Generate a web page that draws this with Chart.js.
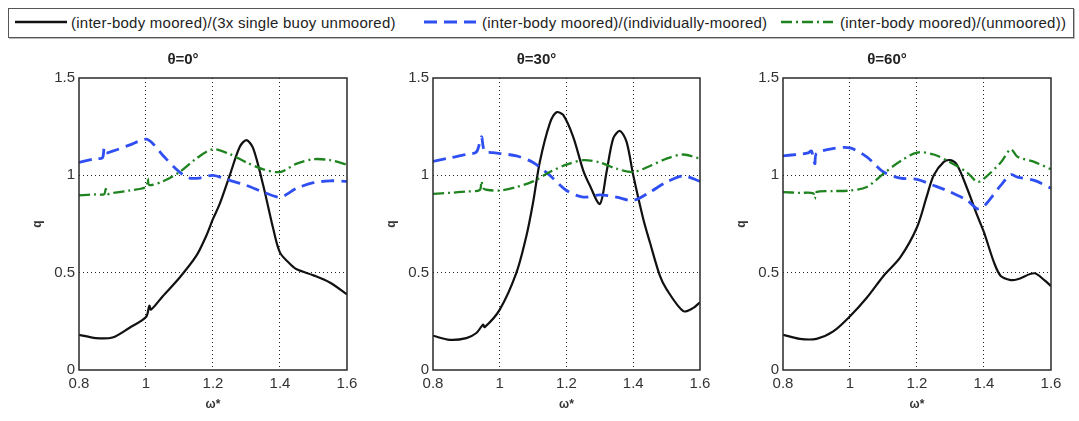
<!DOCTYPE html>
<html>
<head>
<meta charset="utf-8">
<script src="https://cdn.jsdelivr.net/npm/chart.js@4/dist/chart.umd.min.js"></script>
<style>
  html, body { margin: 0; padding: 0; background: #fff; }
  body { width: 1079px; height: 421px; position: relative; overflow: hidden; font-family: "Liberation Sans", Arial, sans-serif; }
  .panel { position: absolute; top: 40px; height: 381px; }
  #legend { position: absolute; left: 8px; top: 8px; width: 1066px; height: 30px; border: 1px solid #555; box-shadow: 1px 1px 0 #bbb; box-sizing: border-box; }
  .lline { position: absolute; top: 18px; }
  .ltext { position: absolute; top: 14px; font-size: 15px; line-height: 17px; letter-spacing: 0.25px; color: #222; white-space: nowrap; }
</style>
</head>
<body>
<div id="legend"></div>
<canvas id="c0" class="panel" style="left:19px" width="348" height="381"></canvas>
<canvas id="c1" class="panel" style="left:373px" width="347" height="381"></canvas>
<canvas id="c2" class="panel" style="left:723px" width="348" height="381"></canvas>
<script>
// ---- shared labels ----
const seriesNames = ['(inter-body moored)/(3x single buoy unmoored)', '(inter-body moored)/(individually-moored)', '(inter-body moored)/(unmoored))'];
const panelTitles = ['\u03b8=0\u00b0', '\u03b8=30\u00b0', '\u03b8=60\u00b0'];
const xTitle = '\u03c9*';
const yTitle = 'q';

// ---- panel 1 (theta = 0) ----
const p0BlackX = [0.80,0.85,0.90,0.95,1.00,1.01,1.015,1.05,1.10,1.15,1.18,1.20,1.22,1.25,1.28,1.30,1.32,1.35,1.38,1.40,1.43,1.45,1.50,1.55,1.60];
const p0BlackY = [0.181,0.164,0.167,0.216,0.272,0.33,0.31,0.379,0.474,0.586,0.69,0.776,0.853,1.0,1.147,1.181,1.138,0.948,0.724,0.603,0.545,0.517,0.486,0.448,0.388];
const p0BlueX = [0.80,0.85,0.87,0.875,0.88,0.90,0.95,1.00,1.02,1.05,1.10,1.13,1.16,1.20,1.25,1.30,1.35,1.40,1.45,1.50,1.55,1.60];
const p0BlueY = [1.066,1.086,1.09,1.14,1.115,1.124,1.155,1.186,1.164,1.103,1.017,0.986,0.986,1.0,0.974,0.948,0.914,0.888,0.934,0.962,0.972,0.969];
const p0GreenX = [0.80,0.85,0.875,0.88,0.885,0.90,0.95,1.00,1.005,1.01,1.05,1.10,1.15,1.20,1.25,1.30,1.35,1.40,1.45,1.50,1.55,1.60];
const p0GreenY = [0.897,0.902,0.903,0.93,0.905,0.909,0.922,0.94,0.983,0.95,0.969,1.017,1.086,1.134,1.109,1.066,1.031,1.017,1.06,1.083,1.078,1.055];

// ---- panel 2 (theta = 30) ----
const p1BlackX = [0.80,0.85,0.90,0.93,0.95,0.955,1.00,1.05,1.08,1.10,1.12,1.15,1.17,1.19,1.22,1.25,1.27,1.30,1.32,1.34,1.36,1.38,1.40,1.43,1.45,1.48,1.50,1.55,1.58,1.60];
const p1BlackY = [0.176,0.155,0.164,0.19,0.233,0.22,0.31,0.5,0.69,0.862,1.069,1.267,1.324,1.31,1.198,1.026,0.948,0.853,1.017,1.19,1.228,1.172,1.0,0.776,0.655,0.483,0.414,0.302,0.319,0.348];
const p1BlueX = [0.80,0.85,0.90,0.93,0.945,0.95,0.955,0.97,1.00,1.05,1.10,1.15,1.20,1.25,1.30,1.35,1.40,1.45,1.50,1.55,1.60];
const p1BlueY = [1.072,1.09,1.107,1.12,1.198,1.15,1.121,1.118,1.112,1.1,1.066,1.0,0.922,0.888,0.9,0.888,0.871,0.914,0.966,0.997,0.969];
const p1GreenX = [0.80,0.85,0.90,0.94,0.945,0.95,0.96,1.00,1.05,1.10,1.15,1.20,1.25,1.30,1.35,1.40,1.45,1.50,1.55,1.60];
const p1GreenY = [0.905,0.91,0.917,0.925,0.97,0.935,0.926,0.922,0.94,0.969,1.017,1.055,1.078,1.066,1.034,1.017,1.048,1.086,1.107,1.086];

// ---- panel 3 (theta = 60) ----
const p2BlackX = [0.80,0.85,0.90,0.95,1.00,1.05,1.10,1.15,1.20,1.23,1.25,1.28,1.30,1.32,1.35,1.38,1.40,1.43,1.45,1.48,1.50,1.55,1.58,1.60];
const p2BlackY = [0.181,0.16,0.16,0.198,0.276,0.371,0.483,0.578,0.733,0.897,1.0,1.069,1.078,1.052,0.931,0.793,0.707,0.552,0.483,0.462,0.466,0.497,0.462,0.431];
const p2BlueX = [0.80,0.85,0.875,0.885,0.895,0.90,0.95,1.00,1.05,1.10,1.15,1.20,1.25,1.30,1.35,1.38,1.40,1.45,1.48,1.50,1.55,1.60];
const p2BlueY = [1.1,1.109,1.115,1.125,1.06,1.112,1.138,1.141,1.095,1.017,0.986,0.979,0.948,0.914,0.871,0.828,0.841,0.948,1.003,0.991,0.974,0.934];
const p2GreenX = [0.80,0.85,0.89,0.895,0.90,0.95,1.00,1.05,1.10,1.15,1.20,1.25,1.30,1.35,1.38,1.40,1.45,1.48,1.50,1.55,1.60];
const p2GreenY = [0.914,0.91,0.908,0.88,0.914,0.919,0.922,0.94,1.009,1.072,1.117,1.107,1.066,1.014,0.966,0.983,1.066,1.134,1.095,1.069,1.031];

// ---- axis ticks ----
const xMin = 0.8, xMax = 1.6, xStep = 0.2;
const yMin = 0, yMax = 1.5, yStep = 0.5;

const colBlack = '#111111', colBlue = '#2f4ff2', colGreen = '#1f841f';
const styles = [
  { color: colBlack, width: 2.2, dash: [] },
  { color: colBlue, width: 2.8, dash: [13, 7] },
  { color: colGreen, width: 2.3, dash: [11, 4, 2, 4] }
];

function pts(xs, ys) { return xs.map((x, i) => ({ x: x, y: ys[i] })); }
const fmt = v => String(Number(Number(v).toFixed(2)));

// legend (HTML)
const legendLine = [15, 424, 781];
const legendText = [71, 482, 840];
seriesNames.forEach((name, i) => {
  const s = styles[i];
  const l = document.createElement('div');
  l.className = 'lline';
  l.style.left = legendLine[i] + 'px';
  l.innerHTML = '<svg width="52" height="8" style="display:block"><line x1="0" y1="4" x2="52" y2="4" stroke="' + s.color + '" stroke-width="' + (s.width + 0.4) + '" stroke-dasharray="' + (s.dash.length ? s.dash.join(' ') : 'none') + '"/></svg>';
  document.body.appendChild(l);
  const t = document.createElement('div');
  t.className = 'ltext';
  t.style.left = legendText[i] + 'px';
  t.textContent = name;
  document.body.appendChild(t);
});

const framePlugin = {
  id: 'frame',
  afterDraw(chart) {
    const a = chart.chartArea, ctx = chart.ctx;
    ctx.save();
    ctx.strokeStyle = '#2a2a2a';
    ctx.lineWidth = 1.5;
    ctx.strokeRect(a.left, a.top, a.right - a.left, a.bottom - a.top);
    ctx.restore();
  }
};

const panels = [
  [p0BlackX, p0BlackY, p0BlueX, p0BlueY, p0GreenX, p0GreenY],
  [p1BlackX, p1BlackY, p1BlueX, p1BlueY, p1GreenX, p1GreenY],
  [p2BlackX, p2BlackY, p2BlueX, p2BlueY, p2GreenX, p2GreenY]
];

const gridColor = (ctx, lo, hi) => {
  const v = ctx.tick ? ctx.tick.value : null;
  if (v === null || Math.abs(v - lo) < 1e-6 || Math.abs(v - hi) < 1e-6) return 'rgba(0,0,0,0)';
  return '#222';
};

panels.forEach((p, k) => {
  const datasets = [0, 1, 2].map(j => ({
    label: seriesNames[j],
    data: pts(p[2 * j], p[2 * j + 1]),
    borderColor: styles[j].color,
    borderWidth: styles[j].width,
    borderDash: styles[j].dash,
    pointRadius: 0,
    fill: false,
    tension: 0.3
  }));
  new Chart(document.getElementById('c' + k), {
    type: 'line',
    data: { datasets: datasets.reverse() },
    options: {
      responsive: false,
      animation: false,
      devicePixelRatio: 1,
      layout: { padding: { left: 0, right: 20, top: 0, bottom: 0 } },
      plugins: {
        legend: { display: false },
        tooltip: { enabled: false },
        title: {
          display: true,
          text: panelTitles[k],
          color: '#222',
          font: { family: 'Liberation Sans', size: 15, weight: 'bold', lineHeight: '16px' },
          padding: { top: 12, bottom: 10 }
        }
      },
      scales: {
        x: {
          type: 'linear', min: xMin, max: xMax,
          ticks: { stepSize: xStep, padding: 5, color: '#333', font: { family: 'Liberation Sans', size: 15 }, callback: v => fmt(v) },
          grid: { drawTicks: false, color: c => gridColor(c, xMin, xMax), lineWidth: 1 },
          border: { display: false, dash: [1, 3] },
          title: { display: true, text: xTitle, color: '#333', font: { family: 'Liberation Sans', size: 12, weight: 'bold' }, padding: { top: 0, bottom: 9 } },
          afterFit(s) { s.height = 51; }
        },
        y: {
          min: yMin, max: yMax,
          ticks: { stepSize: yStep, padding: 4, color: '#333', font: { family: 'Liberation Sans', size: 15 }, callback: v => fmt(v) },
          grid: { drawTicks: false, color: c => gridColor(c, yMin, yMax), lineWidth: 1 },
          border: { display: false, dash: [1, 3] },
          title: { display: true, text: yTitle, color: '#333', font: { family: 'Liberation Sans', size: 12, weight: 'bold' }, padding: { top: 11, bottom: 0 } },
          afterFit(s) { s.width = 60; }
        }
      }
    },
    plugins: [framePlugin]
  });
});
</script>
</body>
</html>
